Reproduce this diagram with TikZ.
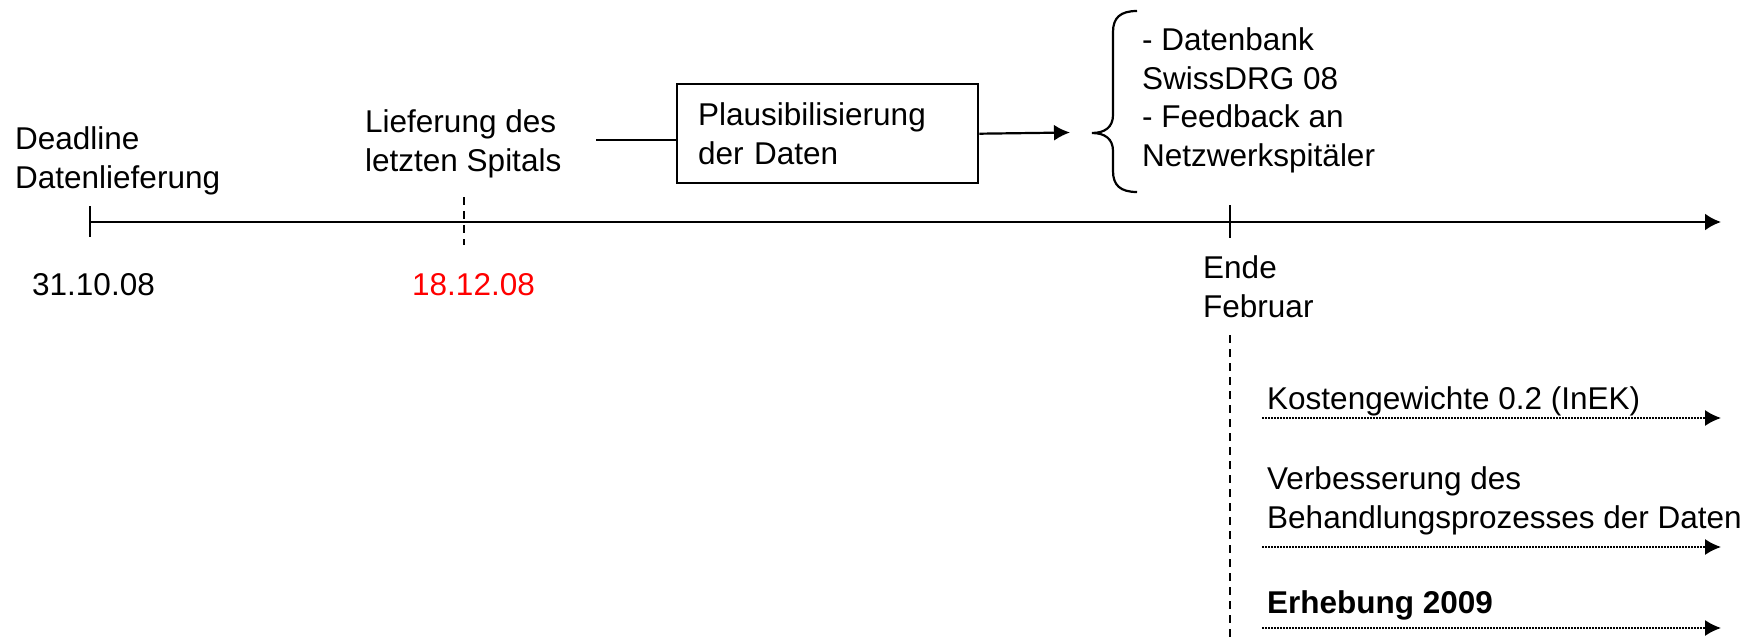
\documentclass[tikz,border=0pt]{standalone}
\usepackage{fontspec}
\setmainfont{Liberation Sans}
\usetikzlibrary{arrows.meta}
\tikzset{every node/.style={inner sep=0pt,align=left,font=\fontsize{31.5}{38.5}\selectfont}}
\tikzset{txt/.style={anchor=base west}}
\tikzset{box/.style={draw,line width=2.4pt,text width=259pt,inner xsep=21pt,minimum height=99pt}}
\tikzset{axis/.style={line width=2.5pt,-{Latex[length=16pt,width=17pt]}}}
\tikzset{conn/.style={line width=2.2pt}}
\tikzset{dashtick/.style={line width=2.2pt,dash pattern=on 8pt off 6pt}}
\tikzset{dotarrow/.style={line width=1.6pt,dash pattern=on 1.6pt off 1.4pt,-{Latex[length=16pt,width=16pt]}}}

\begin{document}
\begin{tikzpicture}[x=1pt,y=-1pt]
\useasboundingbox (0,0) rectangle (1758,642);

% timeline
\coordinate (t0) at (90,222);
\coordinate (tend) at (1721,222);
\draw[axis] (t0) -- (tend);
\draw[conn] (90,206) -- (90,237);
\draw[dashtick] (464,197) -- (464,245);
\draw[conn] (1230,205) -- (1230,238);
\draw[dashtick] (1230,335) -- (1230,642);

% labels on the timeline (base = last line)
\node[txt] (deadline) at (15,188) {Deadline\\Datenlieferung};
\node[txt] (d1) at (32,295) {31.10.08};
\node[txt] (lief) at (365,171) {Lieferung des\\letzten Spitals};
\node[txt,text=red] (d2) at (412,295) {18.12.08};
\node[txt] (ende) at (1203,317) {Ende\\Februar};

% check of the data
\node[box,anchor=north west] (plaus) at (676,83) {Plausibilisierung\\der Daten};
\coordinate (lstart) at (596,140);
\coordinate (arrend) at (1070,132.5);
\draw[conn] (lstart) -- (lstart -| plaus.west);
\draw[conn,-{Latex[length=16pt,width=16pt]}] (plaus.east) -- (arrend);

% brace and results
\draw[conn] (1137,11) .. controls (1120,11) and (1113,18) .. (1113,32) -- (1113,115)
  .. controls (1113,127) and (1105,133) .. (1092,133)
  .. controls (1105,133) and (1113,139) .. (1113,151) -- (1113,171)
  .. controls (1113,185) and (1120,192) .. (1137,192);
\node[txt] (result) at (1142,166) {- Datenbank\\SwissDRG 08\\- Feedback an\\Netzwerkspitäler};

% after February
\node[txt] (kosten) at (1267,409) {Kostengewichte 0.2 (InEK)};
\node[txt] (verb) at (1267,528) {Verbesserung des\\Behandlungsprozesses der Daten};
\node[txt] (erheb) at (1267,613) {\bfseries Erhebung 2009};

\foreach \n/\y in {k/418,v/547,e/628}{
  \coordinate (\n s) at (1262,\y);
  \coordinate (\n e) at (1721,\y);
  \draw[dotarrow] (\n s) -- (\n e);
}
\end{tikzpicture}
\end{document}
